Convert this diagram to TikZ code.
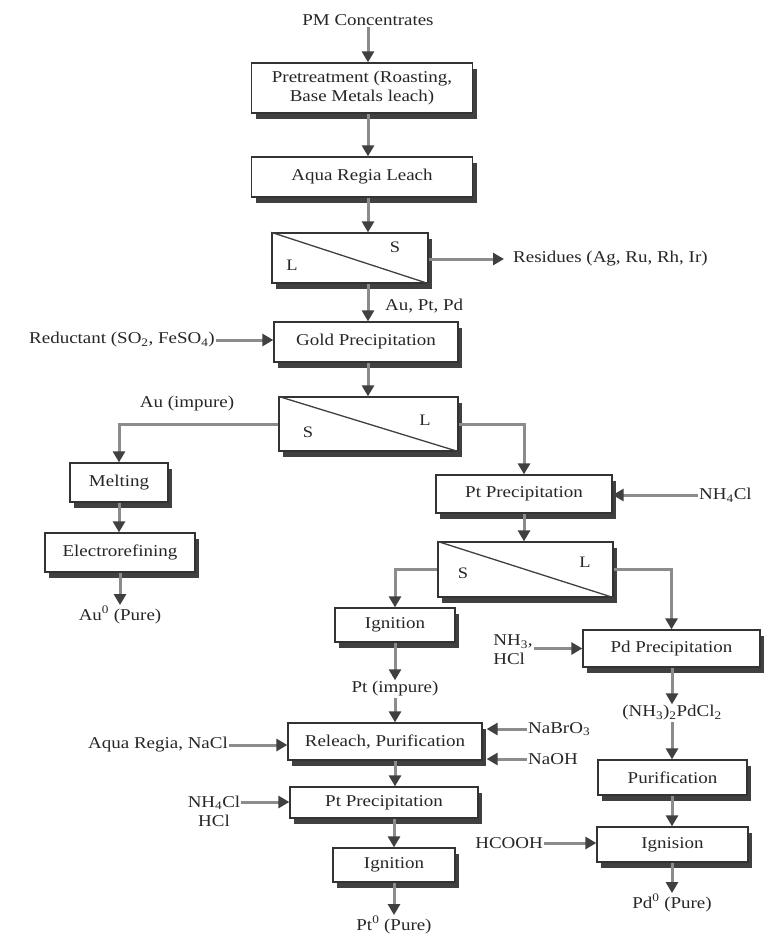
\documentclass[tikz,border=0pt]{standalone}
\usepackage{fontspec}
\setmainfont{Liberation Serif}[FakeStretch=1.15]
\usetikzlibrary{arrows.meta,shadows}
\begin{document}
\begin{tikzpicture}[x=1pt,y=-1pt,
 box/.style={draw=black!80, line width=1.3pt, fill=white,
   drop shadow={shadow xshift=4pt, shadow yshift=-6pt, fill=black!75, opacity=1},
   inner sep=0pt, font=\fontsize{16.5}{19}\selectfont, text=black!85, align=center},
 lbl/.style={inner sep=1pt, font=\fontsize{16.5}{19}\selectfont, text=black!85, align=center},
 sl/.style={inner sep=0pt, font=\fontsize{16}{18}\selectfont, text=black!85},
 diag/.style={draw=black!75, line width=1.3pt},
 arr/.style={draw=black!45, line width=3pt, -{Triangle[length=11pt,width=12pt,color=black!75]}},
 ]
\useasboundingbox[fill=white] (0,0) rectangle (783,935);

% ---- main column ----
\node[lbl] (pm) at (368,20) {PM Concentrates};
\node[box, minimum width=221pt, minimum height=50pt] (pre) at (362,88) {Pretreatment (Roasting,\\ Base Metals leach)};
\node[box, minimum width=221pt, minimum height=40pt] (aqua) at (362,177) {Aqua Regia Leach};
\node[box, minimum width=156pt, minimum height=50pt] (sep1) at (350,258) {};
\draw[diag] (sep1.north west) -- (sep1.south east);
\node[sl] (l1) at (292,265) {L};
\node[sl] (s1) at (395,247) {S};
\node[lbl, anchor=west] (res) at (512,259) {Residues (Ag, Ru, Rh, Ir)};
\node[lbl, anchor=west] (apd) at (384,306) {Au, Pt, Pd};
\node[box, minimum width=184pt, minimum height=40pt] (gold) at (366,342) {Gold Precipitation};
\node[lbl, anchor=east] (red) at (216,340) {Reductant (SO\textsubscript{2}, FeSO\textsubscript{4})};
\node[box, minimum width=179pt, minimum height=54pt] (sep2) at (368.5,424) {};
\draw[diag] (sep2.north west) -- (sep2.south east);
\node[sl] (s2) at (308,432) {S};
\node[sl] (l2) at (425,420) {L};

% ---- gold branch ----
\node[box, minimum width=98pt, minimum height=39pt] (melt) at (119,482.5) {Melting};
\node[box, minimum width=150pt, minimum height=39pt] (elec) at (120,552.5) {Electrorefining};
\node[lbl] (au0) at (120,615) {Au\textsuperscript{0} (Pure)};
\node[lbl] (aui) at (187,404) {Au (impure)};

% ---- Pt / Pd ----
\node[box, minimum width=176pt, minimum height=38pt] (ptp) at (524,494) {Pt Precipitation};
\node[lbl, anchor=west] (nh4) at (698,495) {NH\textsubscript{4}Cl};
\node[box, minimum width=175pt, minimum height=55pt] (sep3) at (525.5,569.5) {};
\draw[diag] (sep3.north west) -- (sep3.south east);
\node[sl] (s3) at (463,573) {S};
\node[sl] (l3) at (585,562) {L};
\node[box, minimum width=120pt, minimum height=34pt] (ign1) at (395,625) {Ignition};
\node[lbl] (pti) at (395,689) {Pt (impure)};
\node[box, minimum width=177pt, minimum height=37pt] (pdp) at (671.5,648.5) {Pd Precipitation};
\node[lbl, align=left] (nh3) at (513,650) {NH\textsubscript{3},\\HCl};
\node[lbl] (pdcl) at (672,713) {(NH\textsubscript{3})\textsubscript{2}PdCl\textsubscript{2}};
\node[box, minimum width=149pt, minimum height=35pt] (purif) at (672.5,777.5) {Purification};
\node[box, minimum width=151pt, minimum height=35pt] (ignis) at (672.5,844.5) {Ignision};
\node[lbl, anchor=east] (hco) at (544,843) {HCOOH};
\node[lbl] (pd0) at (672,903) {Pd\textsuperscript{0} (Pure)};

\node[box, minimum width=194pt, minimum height=37pt] (rel) at (385,741.5) {Releach, Purification};
\node[lbl, anchor=east] (arn) at (229,745) {Aqua Regia, NaCl};
\node[lbl, anchor=west] (nabr) at (527,729) {NaBrO\textsubscript{3}};
\node[lbl, anchor=west] (naoh) at (527,759) {NaOH};
\node[box, minimum width=188pt, minimum height=31pt] (ptp2) at (384,802.5) {Pt Precipitation};
\node[lbl] (nh4b) at (214,811) {NH\textsubscript{4}Cl\\HCl};
\node[box, minimum width=122pt, minimum height=34pt] (ign2) at (394,865) {Ignition};
\node[lbl] (pt0) at (394,925) {Pt\textsuperscript{0} (Pure)};

% ---- connectors ----
\draw[arr] (pm.south) -- (pm.south |- pre.north);
\draw[arr] (pre.south -| pm) -- (aqua.north -| pm);
\draw[arr] (aqua.south -| pm) -- (sep1.north -| pm);
\draw[arr, shorten >=8pt] (sep1.east |- res.west) -- (res.west);
\draw[arr] (sep1.south -| pm) -- (gold.north -| pm);
\draw[arr] (red.east) -- (red.east -| gold.west);
\draw[arr] (gold.south -| pm) -- (sep2.north -| pm);
\draw[arr] (sep2.west) -| (melt.north);
\draw[arr] (melt.south) -- (elec.north -| melt);
\draw[arr] (elec.south -| au0) -- (au0.north);
\draw[arr] (sep2.east) -| (ptp.north);
\draw[arr] (nh4.west) -- (nh4.west -| ptp.east);
\draw[arr] (ptp.south) -- (ptp.south |- sep3.north);
\draw[arr] (sep3.west) -| (ign1.north);
\draw[arr] (sep3.east) -| (pdp.north);
\draw[arr] (ign1.south) -- (pti.north);
\draw[arr] (pti.south) -- (pti.south |- rel.north);
\draw[arr] (nh3.east |- pdp.west) -- (pdp.west);
\draw[arr] (pdp.south -| pdcl) -- (pdcl.north);
\draw[arr] (pdcl.south) -- (pdcl.south |- purif.north);
\draw[arr] (purif.south -| pdcl) -- (ignis.north -| pdcl);
\draw[arr] (ignis.south -| pd0) -- (pd0.north);
\draw[arr] (hco.east) -- (hco.east -| ignis.west);
\draw[arr] (arn.east) -- (arn.east -| rel.west);
\draw[arr] (nabr.west) -- ([xshift=4pt]nabr.west -| rel.east);
\draw[arr] (naoh.west) -- ([xshift=4pt]naoh.west -| rel.east);
\draw[arr] (rel.south -| pti) -- (ptp2.north -| pti);
\draw[arr] ([yshift=9pt]nh4b.east) -- ([yshift=9pt]nh4b.east -| ptp2.west);
\draw[arr] (ptp2.south -| ign2) -- (ign2.north);
\draw[arr] (ign2.south) -- (pt0.north);
\end{tikzpicture}
\end{document}
